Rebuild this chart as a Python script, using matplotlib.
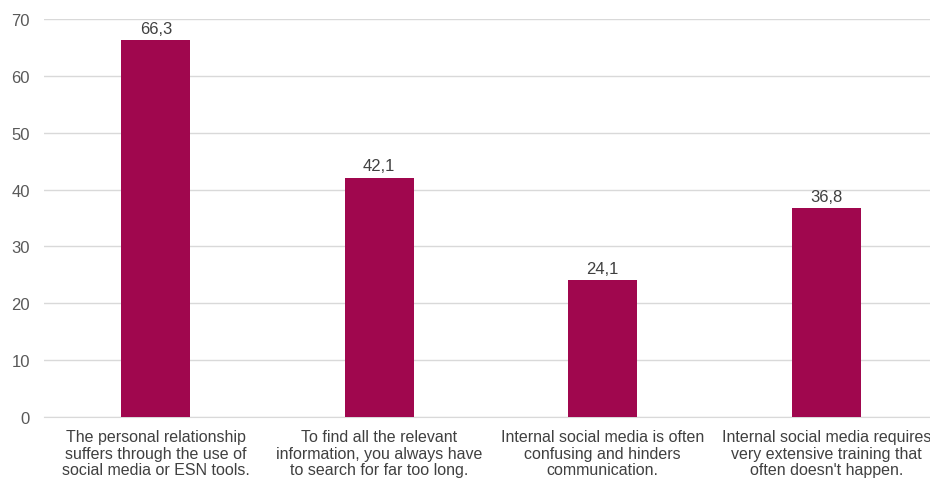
import matplotlib.pyplot as plt

plt.rcParams.update({
    "font.family": ["Liberation Sans", "DejaVu Sans"],
    "font.size": 11.5,
})

categories = [
    "The personal relationship\nsuffers through the use of\nsocial media or ESN tools.",
    "To find all the relevant\ninformation, you always have\nto search for far too long.",
    "Internal social media is often\nconfusing and hinders\ncommunication.",
    "Internal social media requires\nvery extensive training that\noften doesn't happen.",
]
values = [66.3, 42.1, 24.1, 36.8]
value_labels = ["66,3", "42,1", "24,1", "36,8"]
yticks = [0, 10, 20, 30, 40, 50, 60, 70]

fig = plt.figure(figsize=(9.3, 4.81), dpi=100)
ax = fig.add_axes([44 / 930, 63 / 481, 894 / 930, 398 / 481])

x = list(range(len(categories)))
bars = ax.bar(x, values, width=0.31, color="#A0074E", zorder=3)

for b, lab in zip(bars, value_labels):
    ax.annotate(lab, (b.get_x() + b.get_width() / 2, b.get_height()),
                xytext=(0, 3), textcoords="offset points",
                ha="center", va="bottom", color="#404040", fontsize=12)

ax.set_xlim(-0.5, len(categories) - 0.5)
ax.set_ylim(0, 70)
ax.set_yticks(yticks)
ax.set_yticklabels([str(t) for t in yticks], color="#595959", fontsize=12)
ax.set_xticks(x)
ax.set_xticklabels(categories, color="#404040", fontsize=11.5, linespacing=1.12)

ax.grid(axis="y", color="#D9D9D9", linewidth=1, zorder=0)
for s in ["top", "right", "left"]:
    ax.spines[s].set_visible(False)
ax.spines["bottom"].set_color("#D9D9D9")
ax.tick_params(axis="both", length=0)
ax.tick_params(axis="y", pad=10)
ax.tick_params(axis="x", pad=9)

fig.savefig("out.png", dpi=100)
